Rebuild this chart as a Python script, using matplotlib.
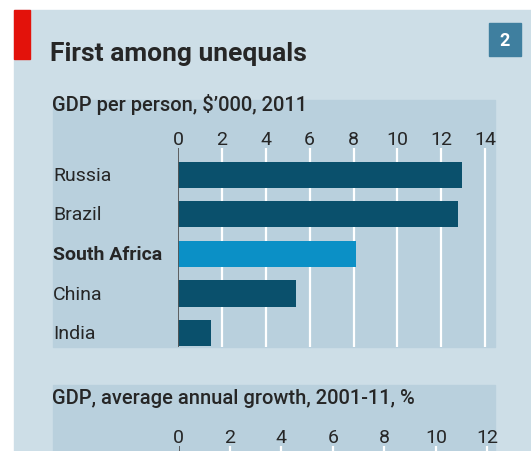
import matplotlib
matplotlib.use('Agg')
import matplotlib.pyplot as plt
import matplotlib.transforms as mtransforms
from matplotlib.patches import Rectangle

plt.rcParams['font.family'] = ['Roboto', 'DejaVu Sans']

# data
countries = ['Russia', 'Brazil', 'South Africa', 'China', 'India']
gdp_per_person = [12.95, 12.75, 8.1, 5.4, 1.5]
ticks_top = [0, 2, 4, 6, 8, 10, 12, 14]
ticks_bottom = [0, 2, 4, 6, 8, 10, 12]
highlight = 'South Africa'

W, H = 531, 452
outer_bg = '#cddee7'
inner_bg = '#b9d0dd'
dark_bar = '#0a506c'
light_bar = '#0b90c6'
text_col = '#262626'

fig = plt.figure(figsize=(W / 100, H / 100), dpi=100)
fig.patch.set_facecolor('white')


def fx(x):
    return x / W


def fy(y):
    return 1 - y / H


def box(x0, y0, x1, y1, color):
    fig.patches.append(Rectangle((fx(x0), fy(y1)), fx(x1) - fx(x0), fy(y0) - fy(y1),
                                 transform=fig.transFigure, color=color, zorder=-5))


# backgrounds
box(14, 11, W, H, outer_bg)
box(14, 11, 30, 60, '#e3120b')
box(489, 24, 521, 57, '#3f7f9f')
box(53, 101, 495, 347.5, inner_bg)
box(53, 386, 495, H, inner_bg)

fig.text(fx(505), fy(41), '2', color='white', fontsize=13, fontweight='bold',
         ha='center', va='center')
fig.text(fx(50), fy(61), 'First among unequals', color=text_col, fontsize=19,
         fontweight='bold', ha='left', va='baseline')
fig.text(fx(52), fy(111), "GDP per person, $\u2019000, 2011", color=text_col,
         fontsize=14.5, fontweight='medium', ha='left', va='baseline')
fig.text(fx(52), fy(404), 'GDP, average annual growth, 2001-11, %', color=text_col,
         fontsize=14.5, fontweight='medium', ha='left', va='baseline')


def style_axis(ax, ticks):
    ax.set_zorder(5)
    ax.set_facecolor('none')
    for s in ax.spines.values():
        s.set_visible(False)
    ax.xaxis.tick_top()
    ax.set_xticks(ticks)
    ax.set_xticklabels([str(t) for t in ticks])
    ax.tick_params(axis='x', length=0, pad=0, labelsize=14, labelcolor=text_col)
    ax.set_yticks([])
    for t in ticks[1:]:
        ax.axvline(t, color='white', lw=1.6, zorder=1)
    ax.axvline(0, color='#555555', lw=1.3, zorder=3)


# top chart: GDP per person
ax1 = fig.add_axes([fx(178), fy(347.5), fx(495) - fx(178), fy(149) - fy(347.5)])
ypos = list(range(len(countries)))
colors = [light_bar if c == highlight else dark_bar for c in countries]
ax1.barh(ypos, gdp_per_person, height=0.66, color=colors, zorder=2)
ax1.set_xlim(0, 14.45)
ax1.set_ylim(4.34, -0.68)
style_axis(ax1, ticks_top)

# country labels sit at the panel's left edge
label_tr = mtransforms.blended_transform_factory(fig.transFigure, ax1.transData)
for y, c in zip(ypos, countries):
    fig.text(fx(53), y, c, transform=label_tr, ha='left', va='center',
             fontsize=14, color=text_col, zorder=6,
             fontweight='bold' if c == highlight else 'normal')

# bottom chart: GDP growth (bars fall below the cropped picture)
ax2 = fig.add_axes([fx(178.5), fy(H + 200), fx(495) - fx(178.5), fy(447) - fy(H + 200)])
ax2.set_xlim(0, 12.3)
ax2.set_ylim(1, 0)
style_axis(ax2, ticks_bottom)

fig.savefig('out.png', dpi=100, facecolor='white')
